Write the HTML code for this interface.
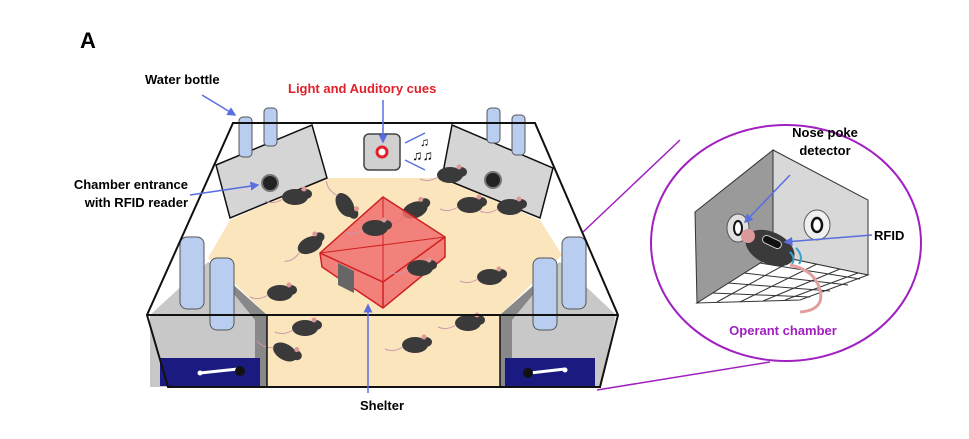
<!DOCTYPE html>
<html><head><meta charset="utf-8"><style>
html,body{margin:0;padding:0;background:#fff;}
svg{display:block;}
text{font-family:"Liberation Sans",sans-serif;font-weight:bold;}
</style></head><body>
<svg width="969" height="439" viewBox="0 0 969 439" xmlns="http://www.w3.org/2000/svg">
<defs>
<marker id="ab" markerWidth="6" markerHeight="6" refX="5" refY="3" orient="auto"><path d="M0,0 L6,3 L0,6 z" fill="#5a6ee0"/></marker>
<g id="mouse"><ellipse cx="0" cy="0" rx="13" ry="8" fill="#3a3a3a"/><ellipse cx="11" cy="-3" rx="6" ry="5" fill="#3a3a3a"/><circle cx="9" cy="-8" r="2.5" fill="#d99"/><path d="M-12,2 q-10,6 -18,2" stroke="#c9a" fill="none" stroke-width="1"/></g>
</defs>
<text x="80" y="48" font-size="22">A</text>
<text x="145" y="84" font-size="13">Water bottle</text>
<text x="288" y="93" font-size="13" fill="#e0202a">Light and Auditory cues</text>
<text x="188" y="189" font-size="13" text-anchor="end">Chamber entrance</text>
<text x="188" y="207" font-size="13" text-anchor="end">with RFID reader</text>
<text x="382" y="410" font-size="13" text-anchor="middle">Shelter</text>

<!-- back wall white -->
<polygon points="233,123 535,123 618,315 147,315" fill="#fff"/>
<!-- floor -->
<polygon points="327,178 442,178 540,220 562,255 500,315 500,387 267,387 267,315 208,258 230,220" fill="#fbe5bd"/>
<!-- side blocks -->
<polygon points="150,315 208,262 267,315 267,387 150,387" fill="#c8c8c8"/>
<polygon points="500,315 560,262 616,315 600,387 500,387" fill="#c8c8c8"/>
<polygon points="208,262 267,315 267,387 255,387 255,320" fill="#888"/>
<polygon points="560,262 500,315 500,387 512,387 512,320" fill="#888"/>
<rect x="160" y="358" width="100" height="28" fill="#1a1a80"/>
<rect x="505" y="358" width="90" height="28" fill="#1a1a80"/>
<line x1="200" y1="373" x2="238" y2="369" stroke="#fff" stroke-width="3"/><circle cx="240" cy="371" r="5" fill="#111"/><circle cx="200" cy="373" r="2.5" fill="#fff"/>
<line x1="530" y1="373" x2="565" y2="369" stroke="#fff" stroke-width="3"/><circle cx="528" cy="373" r="5" fill="#111"/><circle cx="565" cy="370" r="2.5" fill="#fff"/>
<!-- panels -->
<polygon points="216,165 312,125 327,178 230,218" fill="#d5d5d5" stroke="#111" stroke-width="1.5"/>
<polygon points="452,125 553,168 540,218 442,178" fill="#d5d5d5" stroke="#111" stroke-width="1.5"/>
<circle cx="270" cy="183" r="8" fill="#222" stroke="#777" stroke-width="2"/>
<circle cx="493" cy="180" r="8" fill="#222" stroke="#777" stroke-width="2"/>
<!-- back bottles -->
<g fill="#b9cdf0" stroke="#555" stroke-width="1">
<rect x="239" y="117" width="13" height="40" rx="4"/><rect x="264" y="108" width="13" height="38" rx="4"/>
<rect x="487" y="108" width="13" height="35" rx="4"/><rect x="512" y="115" width="13" height="40" rx="4"/>
</g>
<!-- light box -->
<rect x="364" y="134" width="36" height="36" rx="5" fill="#d0d0d0" stroke="#444" stroke-width="1.5"/>
<circle cx="382" cy="152" r="5" fill="#fff" stroke="#e0202a" stroke-width="3"/>
<line x1="405" y1="143" x2="425" y2="133" stroke="#5a6ee0" stroke-width="1.5"/>
<line x1="405" y1="160" x2="425" y2="170" stroke="#5a6ee0" stroke-width="1.5"/>
<text x="412" y="160" font-size="14" font-weight="normal">♫♫</text>
<text x="420" y="146" font-size="12" font-weight="normal">♫</text>
<!-- mice -->
<use href="#mouse" transform="translate(295,197)"/>
<use href="#mouse" transform="translate(450,175)"/>
<use href="#mouse" transform="translate(470,205)"/>
<use href="#mouse" transform="translate(510,207)"/>
<use href="#mouse" transform="translate(345,205) rotate(60)"/>
<use href="#mouse" transform="translate(415,210) rotate(-20)"/>
<use href="#mouse" transform="translate(310,245) rotate(-25)"/>
<use href="#mouse" transform="translate(280,293)"/>
<use href="#mouse" transform="translate(305,328)"/>
<use href="#mouse" transform="translate(415,345)"/>
<use href="#mouse" transform="translate(468,323)"/>
<use href="#mouse" transform="translate(490,277)"/>
<use href="#mouse" transform="translate(285,352) rotate(30)"/>
<!-- shelter -->
<polygon points="383,197 445,237 445,257 383,308 322,267 320,253" fill="#f07070" fill-opacity="0.85" stroke="#d02020" stroke-width="1.5"/>
<polyline points="320,253 383,282 445,237" fill="none" stroke="#d02020" stroke-width="1.5"/>
<line x1="383" y1="282" x2="383" y2="308" stroke="#d02020" stroke-width="1.5"/>
<line x1="383" y1="197" x2="383" y2="282" stroke="#d02020" stroke-width="1"/>
<line x1="320" y1="253" x2="445" y2="237" stroke="#d02020" stroke-width="1"/>
<polygon points="338,263 354,271 354,293 338,285" fill="#666"/>
<use href="#mouse" transform="translate(375,228)"/>
<use href="#mouse" transform="translate(420,268)"/>
<!-- front bottles -->
<g fill="#b9cdf0" stroke="#555" stroke-width="1">
<rect x="180" y="237" width="24" height="72" rx="7"/><rect x="210" y="258" width="24" height="72" rx="7"/>
<rect x="533" y="258" width="24" height="72" rx="7"/><rect x="562" y="237" width="24" height="72" rx="7"/>
</g>
<!-- box outline -->
<polygon points="233,123 535,123 618,315 600,387 168,387 147,315" fill="none" stroke="#111" stroke-width="2"/>
<line x1="147" y1="315" x2="618" y2="315" stroke="#111" stroke-width="2"/>
<line x1="267" y1="315" x2="267" y2="387" stroke="#111" stroke-width="1.5"/>
<line x1="500" y1="315" x2="500" y2="387" stroke="#111" stroke-width="1.5"/>
<!-- label arrows -->
<line x1="202" y1="95" x2="235" y2="115" stroke="#5a6ee0" stroke-width="1.5" marker-end="url(#ab)"/>
<line x1="383" y1="100" x2="383" y2="142" stroke="#5a6ee0" stroke-width="1.5" marker-end="url(#ab)"/>
<line x1="190" y1="195" x2="258" y2="185" stroke="#5a6ee0" stroke-width="1.5" marker-end="url(#ab)"/>
<line x1="368" y1="393" x2="368" y2="305" stroke="#5a6ee0" stroke-width="1.5" marker-end="url(#ab)"/>
<!-- zoom lines -->
<line x1="583" y1="232" x2="680" y2="140" stroke="#a020c0" stroke-width="1.5"/>
<line x1="597" y1="390" x2="770" y2="362" stroke="#a020c0" stroke-width="1.5"/>
<ellipse cx="786" cy="243" rx="135" ry="118" fill="#fff" stroke="#a020c0" stroke-width="2"/>
<!-- operant chamber -->
<polygon points="695,212 773,150 773,255 697,303" fill="#9a9a9a" stroke="#333"/>
<polygon points="773,150 868,200 868,275 773,255" fill="#d8d8d8" stroke="#333"/>
<polygon points="697,303 773,255 868,275 800,300" fill="#fff" stroke="#333"/>
<g stroke="#333" stroke-width="1">
<line x1="712" y1="293" x2="810" y2="297"/><line x1="728" y1="283" x2="830" y2="291"/><line x1="744" y1="273" x2="848" y2="285"/><line x1="760" y1="263" x2="860" y2="279"/>
<line x1="717" y1="302" x2="795" y2="259"/><line x1="740" y1="302" x2="817" y2="264"/><line x1="763" y1="301" x2="840" y2="269"/><line x1="785" y1="300" x2="858" y2="273"/>
</g>
<ellipse cx="738" cy="228" rx="11" ry="14" fill="#e0e0e0" stroke="#555"/><ellipse cx="738" cy="228" rx="4" ry="7" fill="#fff" stroke="#111" stroke-width="2"/>
<ellipse cx="817" cy="225" rx="13" ry="15" fill="#f0f0f0" stroke="#555"/><ellipse cx="817" cy="225" rx="5" ry="7" fill="#fff" stroke="#111" stroke-width="2.5"/>
<ellipse cx="770" cy="248" rx="26" ry="16" transform="rotate(25 770 248)" fill="#3a3a3a"/>
<circle cx="748" cy="236" r="7" fill="#d99"/>
<rect x="762" y="238" width="20" height="8" rx="4" transform="rotate(25 772 242)" fill="#111" stroke="#ccc"/>
<path d="M790,252 q6,6 2,12 M796,248 q8,8 3,16" stroke="#3aa0d0" fill="none" stroke-width="2"/>
<path d="M790,265 q25,5 30,25 q5,20 -20,22" stroke="#e0a0a0" fill="none" stroke-width="3"/>
<line x1="790" y1="175" x2="745" y2="222" stroke="#5a6ee0" stroke-width="1.5" marker-end="url(#ab)"/>
<line x1="872" y1="235" x2="785" y2="242" stroke="#5a6ee0" stroke-width="1.5" marker-end="url(#ab)"/>
<text x="825" y="137" font-size="13" text-anchor="middle">Nose poke</text>
<text x="825" y="155" font-size="13" text-anchor="middle">detector</text>
<text x="874" y="240" font-size="13">RFID</text>
<text x="783" y="335" font-size="13" fill="#a020c0" text-anchor="middle">Operant chamber</text>
</svg>
</body></html>
